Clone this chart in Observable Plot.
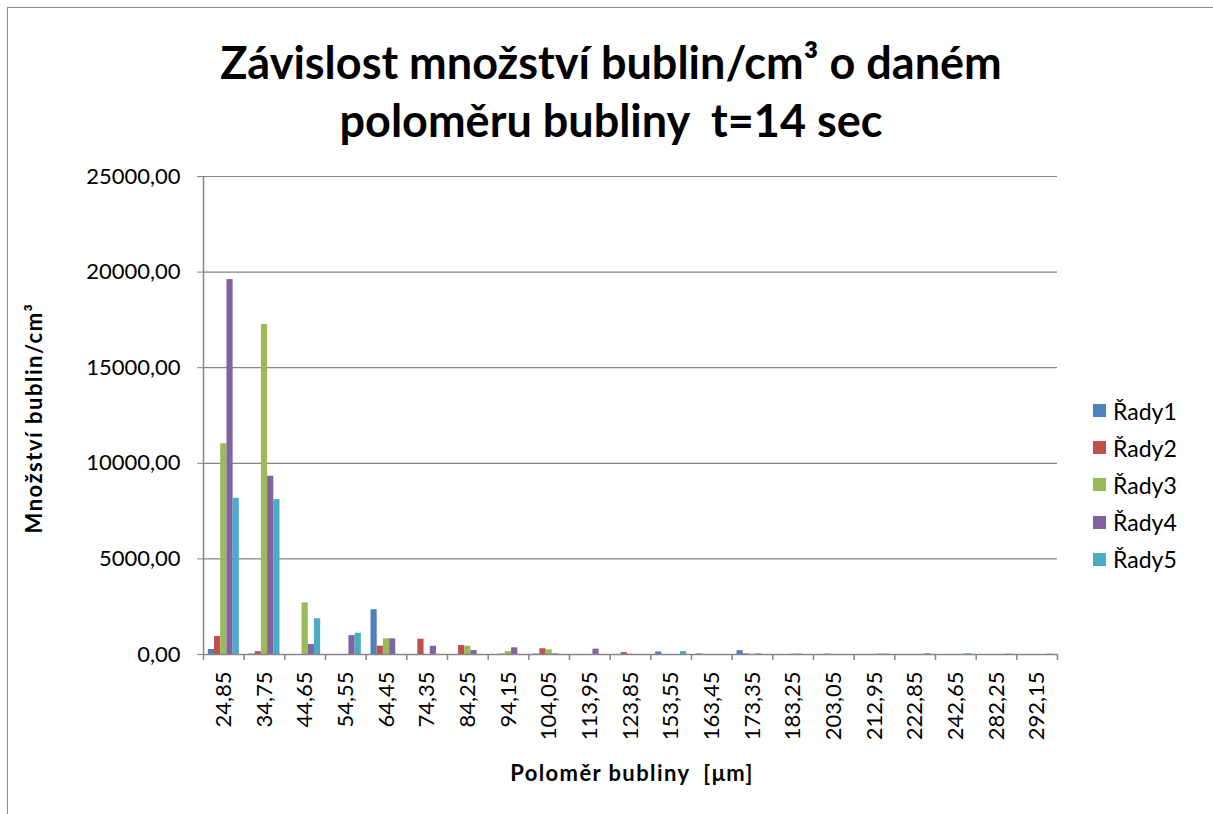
<!DOCTYPE html>
<html>
<head>
<meta charset="utf-8">
<script src="https://cdn.jsdelivr.net/npm/d3@7"></script>
<script src="https://cdn.jsdelivr.net/npm/@observablehq/plot@0.6"></script>
<style>
  html, body { margin: 0; padding: 0; background: #fff; overflow: hidden; }
  body { width: 1213px; height: 814px; position: relative; font-family: Lato, "Open Sans", sans-serif; }
  #frame { position: absolute; left: 7px; top: 7px; width: 1210px; height: 830px; border: 1.5px solid #8c8c8c; box-sizing: border-box; }
  #chart { position: absolute; left: 0; top: 0; }
  .title { position: absolute; left: 0; width: 1222px; text-align: center; font-weight: bold; font-size: 45px; color: #000; line-height: 1; }
  .ytitle { position: absolute; left: 33px; top: 418px; transform: translate(-50%, -50%) rotate(-90deg); white-space: nowrap; font-weight: bold; font-size: 22px; letter-spacing: 1.5px; }
  .xtitle { position: absolute; left: 632px; top: 772px; transform: translate(-50%, -50%); white-space: nowrap; font-weight: bold; font-size: 22px; letter-spacing: 1.4px; }
  .legend { position: absolute; left: 1093px; top: 392px; }
  .legend div { height: 37.2px; display: flex; align-items: center; font-size: 23px; }
  .legend span.sw { display: inline-block; width: 13px; height: 13px; margin-right: 7px; }
</style>
</head>
<body>
<div id="frame"></div>
<div id="chart"></div>
<div class="title" style="top:40px">Závislost množství bublin/cm³ o daném</div>
<div class="title" style="top:98px">poloměru bubliny&nbsp; t=14 sec</div>
<div class="ytitle">Množství bublin/cm³</div>
<div class="xtitle">Poloměr bubliny&nbsp; [μm]</div>
<div class="legend" id="legend"></div>
<script>
const categories = ["24,85","34,75","44,65","54,55","64,45","74,35","84,25","94,15","104,05","113,95","123,85","153,55","163,45","173,35","183,25","203,05","212,95","222,85","242,65","282,25","292,15"];
const seriesNames = ["Řady1","Řady2","Řady3","Řady4","Řady5"];
const rady1 = [260, 20, 0, 0, 2340, 0, 0, 0, 20, 0, 0, 130, 30, 200, 0, 0, 0, 0, 0, 0, 0];
const rady2 = [940, 150, 0, 0, 435, 800, 470, 20, 300, 0, 100, 0, 0, 30, 0, 20, 0, 0, 0, 0, 0];
const rady3 = [11020, 17260, 2700, 0, 820, 0, 435, 150, 245, 0, 20, 0, 0, 0, 20, 0, 0, 0, 0, 0, 0];
const rady4 = [19610, 9325, 520, 990, 820, 430, 210, 350, 30, 280, 0, 0, 0, 30, 20, 0, 20, 0, 0, 0, 0];
const rady5 = [8175, 8100, 1870, 1110, 0, 0, 0, 0, 0, 0, 0, 150, 0, 0, 0, 0, 20, 40, 40, 20, 20];
const yTicks = [0, 5000, 10000, 15000, 20000, 25000];
const colors = ["#4F81BD", "#C0504D", "#9BBB59", "#8064A2", "#4BACC6"];

const allSeries = [rady1, rady2, rady3, rady4, rady5];

const W = 1213, H = 814;
const mL = 203, mR = 156, mT = 176, mB = 160;
const bw = (W - mL - mR) / categories.length;
const barW = 6.2;
const inset = (bw - barW) / 2;
const fmt = d => d.toFixed(2).replace(".", ",");
const grey = "#868686";

const barMarks = allSeries.map((vals, j) => {
  const data = categories.map((c, i) => ({cat: c, value: vals[i]}));
  return Plot.barY(data, {
    x: "cat", y: "value", fill: colors[j],
    insetLeft: inset, insetRight: inset, dx: (j - 2) * barW
  });
});

const chart = Plot.plot({
  width: W, height: H,
  marginLeft: mL, marginRight: mR, marginTop: mT, marginBottom: mB,
  style: {fontFamily: "Lato, 'Open Sans', sans-serif", fontSize: "22px", color: "#000", background: "transparent"},
  x: {type: "band", domain: categories, padding: 0, round: false, label: null},
  y: {domain: [0, 25000], label: null},
  marks: [
    Plot.gridY(yTicks, {stroke: grey, strokeOpacity: 1, strokeWidth: 1.2}),
    Plot.ruleX([categories[0]], {dx: -bw / 2, stroke: grey, strokeWidth: 1.5}),
    Plot.ruleX(categories, {dx: -bw / 2, stroke: grey, strokeWidth: 1.5, insetTop: H - mT - mB, insetBottom: -6}),
    Plot.ruleX([categories[categories.length - 1]], {dx: bw / 2, stroke: grey, strokeWidth: 1.5, insetTop: H - mT - mB, insetBottom: -6}),
    ...barMarks,
    Plot.ruleY([0], {stroke: grey, strokeWidth: 1.5}),
    Plot.axisY({ticks: yTicks, tickFormat: fmt, tickSize: 6, tickPadding: 17, stroke: grey, fill: "#000", fontSize: 22, label: null}),
    Plot.axisX({tickRotate: -90, tickSize: 0, tickPadding: 17, fill: "#000", fontSize: 22, label: null})
  ]
});
document.getElementById("chart").appendChild(chart);

const leg = document.getElementById("legend");
seriesNames.forEach((n, j) => {
  const d = document.createElement("div");
  d.innerHTML = `<span class="sw" style="background:${colors[j]}"></span>${n}`;
  leg.appendChild(d);
});
</script>
</body>
</html>
